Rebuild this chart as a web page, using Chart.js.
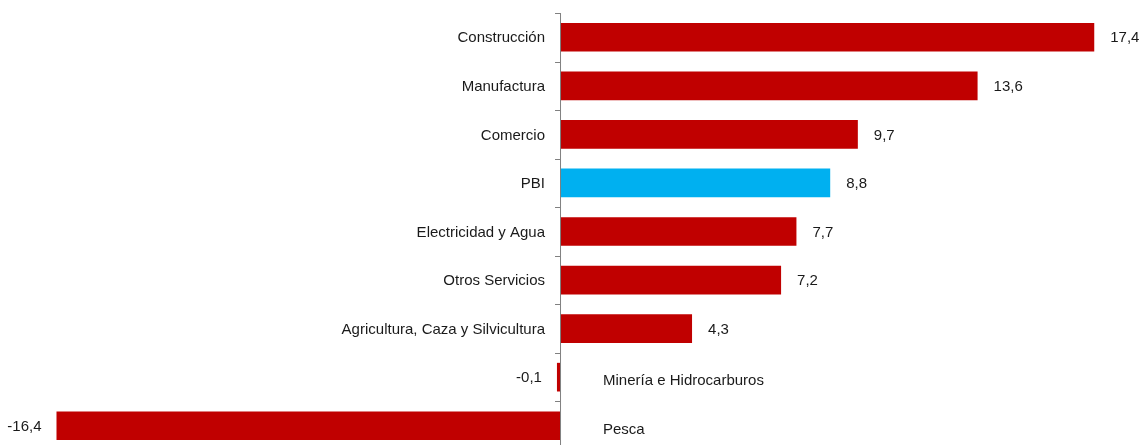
<!DOCTYPE html>
<html>
<head>
<meta charset="utf-8">
<script src="https://cdn.jsdelivr.net/npm/chart.js@4.4.0/dist/chart.umd.min.js"></script>
<style>
  html, body { margin: 0; padding: 0; background: #fff; overflow: hidden; }
  #wrap { width: 1140px; height: 450px; }
</style>
</head>
<body>
<div id="wrap"><canvas id="myChart"></canvas></div>
<script>
const sectores = ['Construcción', 'Manufactura', 'Comercio', 'PBI', 'Electricidad y Agua',
  'Otros Servicios', 'Agricultura, Caza y Silvicultura', 'Minería e Hidrocarburos', 'Pesca'];
const variacion = [17.4, 13.6, 9.7, 8.8, 7.7, 7.2, 4.3, -0.1, -16.4];
const colores = ['#c00000', '#c00000', '#c00000', '#00b0f0', '#c00000', '#c00000', '#c00000', '#c00000', '#c00000'];

const FONT = '15px "Liberation Sans", Arial, sans-serif';

// etiquetas de sector junto al eje y valores al final de cada barra
const etiquetas = {
  id: 'etiquetas',
  afterDatasetsDraw(chart) {
    const ctx = chart.ctx;
    const xs = chart.scales.x;
    const area = chart.chartArea;
    const x0 = xs.getPixelForValue(0);
    const bars = chart.getDatasetMeta(0).data;

    ctx.save();
    // eje vertical en cero con marcas a la izquierda
    ctx.strokeStyle = '#808080';
    ctx.lineWidth = 1;
    ctx.beginPath();
    ctx.moveTo(x0 + 0.5, area.top);
    ctx.lineTo(x0 + 0.5, area.bottom);
    const paso = (area.bottom - area.top) / sectores.length;
    for (let i = 0; i <= sectores.length; i++) {
      const y = Math.round(area.top + paso * i) + 0.5;
      ctx.moveTo(x0 - 5, y);
      ctx.lineTo(x0, y);
    }
    ctx.stroke();

    ctx.font = FONT;
    ctx.fillStyle = '#1a1a1a';
    ctx.textBaseline = 'middle';
    bars.forEach((bar, i) => {
      const v = variacion[i];
      const txt = v.toFixed(1).replace('.', ',');
      const y = bar.y + 1;
      if (v >= 0) {
        ctx.textAlign = 'right';
        ctx.fillText(sectores[i], x0 - 15, y);
        ctx.textAlign = 'left';
        ctx.fillText(txt, bar.x + 16, y);
      } else {
        ctx.textAlign = 'left';
        ctx.fillText(sectores[i], x0 + 43, y + 3);
        ctx.textAlign = 'right';
        ctx.fillText(txt, bar.x - 15, y);
      }
    });
    ctx.restore();
  }
};

new Chart(document.getElementById('myChart'), {
  type: 'bar',
  data: {
    labels: sectores,
    datasets: [{
      data: variacion,
      backgroundColor: colores,
      borderWidth: 0,
      barPercentage: 0.59,
      categoryPercentage: 1
    }]
  },
  options: {
    indexAxis: 'y',
    responsive: true,
    maintainAspectRatio: false,
    animation: false,
    layout: { padding: { top: 13, bottom: 0, left: 0, right: 0 } },
    plugins: {
      legend: { display: false },
      tooltip: { enabled: false }
    },
    scales: {
      x: { display: false, min: -18.24, max: 18.89 },
      y: { display: false }
    }
  },
  plugins: [etiquetas]
});
</script>
</body>
</html>
